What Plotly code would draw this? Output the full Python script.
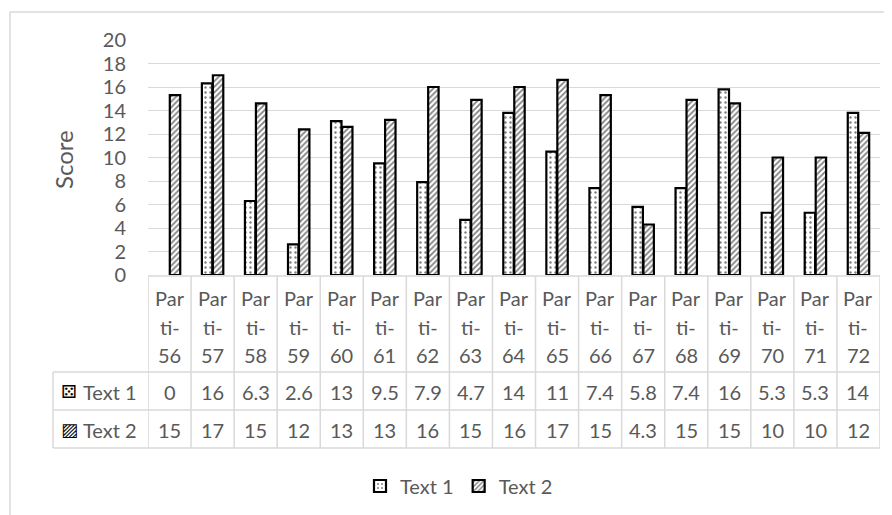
import plotly.graph_objects as go
from decimal import Decimal, ROUND_HALF_UP

# ---------------- data ----------------
categories = ["Parti-56", "Parti-57", "Parti-58", "Parti-59", "Parti-60", "Parti-61",
              "Parti-62", "Parti-63", "Parti-64", "Parti-65", "Parti-66", "Parti-67",
              "Parti-68", "Parti-69", "Parti-70", "Parti-71", "Parti-72"]
text1 = [0, 16.3, 6.3, 2.6, 13.1, 9.5, 7.9, 4.7, 13.8, 10.5, 7.4, 5.8, 7.4, 15.8, 5.3, 5.3, 13.8]
text2 = [15.3, 17.0, 14.6, 12.4, 12.6, 13.2, 16.0, 14.9, 16.0, 16.6, 15.3, 4.3, 14.9, 14.6, 10.0, 10.0, 12.1]
series_names = ["Text 1", "Text 2"]
series_icons = ["\u2684", "\u25A8"]
y_ticks = [0, 2, 4, 6, 8, 10, 12, 14, 16, 18, 20]
y_title = "Score"


def fmt(v):
    """Excel 'General' display in a narrow column: two significant digits."""
    d = Decimal(str(v))
    if d == 0:
        return "0"
    q = Decimal(1).scaleb(d.adjusted() - 1)
    r = d.quantize(q, rounding=ROUND_HALF_UP)
    return format(r.normalize(), "f")


def bar_heights(vals):
    # a zero-height bar is not drawn at all (avoids a stray outline on the axis)
    return [v if v != 0 else None for v in vals]


# ---------------- geometry helpers ----------------
# page body has an 8px margin, so the figure is 8px smaller than the window
W, H = 884, 507
L, R, T, B = 140, 12, 32, 240
PW, PH = W - L - R, H - T - B   # 732 x 235 ; plot area on screen: x 148..880, y 40..275


def py(s):  # screen y -> paper y
    return (275 - s) / PH


def px(s):  # screen x -> paper x
    return (s - 148) / PW


FONT = "Lato"
GRAY = "#595959"
LINE = "#d9d9d9"
FS = 20

fig = go.Figure()
fig.add_trace(go.Bar(
    x=categories, y=bar_heights(text1), name=series_names[0],
    marker=dict(color="white", line=dict(color="black", width=2.2),
                pattern=dict(shape=".", fgcolor="black", bgcolor="white", size=5, solidity=0.18)),
))
fig.add_trace(go.Bar(
    x=categories, y=bar_heights(text2), name=series_names[1],
    marker=dict(color="white", line=dict(color="black", width=2.2),
                pattern=dict(shape="/", fgcolor="black", bgcolor="white", size=4, solidity=0.45)),
))

annotations = []
# header row (category names, wrapped)
header_centers = [297.5, 326.5, 355]
for c in categories:
    parts = [c[:3], c[3:6], c[6:]]
    for part, yc in zip(parts, header_centers):
        annotations.append(dict(x=c, xref="x", y=py(yc), yref="paper", text=part,
                                showarrow=False, font=dict(family=FONT, size=FS, color=GRAY),
                                xanchor="center", yanchor="middle"))
# data rows
row_centers = [391.5, 429.5]
for vals, yc, name, icon in zip([text1, text2], row_centers, series_names, series_icons):
    for c, v in zip(categories, vals):
        annotations.append(dict(x=c, xref="x", y=py(yc), yref="paper", text=fmt(v),
                                showarrow=False, font=dict(family=FONT, size=FS, color=GRAY),
                                xanchor="center", yanchor="middle"))
    annotations.append(dict(x=px(69), xref="paper", y=py(yc), yref="paper", text=icon,
                            showarrow=False, font=dict(family="DejaVu Sans", size=18, color="black"),
                            xanchor="center", yanchor="middle"))
    annotations.append(dict(x=px(81), xref="paper", y=py(yc), yref="paper", text=name,
                            showarrow=False, font=dict(family=FONT, size=FS, color=GRAY),
                            xanchor="left", yanchor="middle"))
# y-axis title
annotations.append(dict(x=px(63), xref="paper", y=py(160), yref="paper", text=y_title,
                        textangle=-90, showarrow=False,
                        font=dict(family=FONT, size=24, color=GRAY),
                        xanchor="center", yanchor="middle"))

shapes = []
# chart outer border
shapes.append(dict(type="rect", xref="paper", yref="paper", x0=px(10), x1=px(1000),
                   y0=py(12), y1=py(800), line=dict(color=LINE, width=1.5), layer="below"))
# table horizontal lines
shapes.append(dict(type="line", xref="paper", yref="paper", x0=0, x1=1, y0=py(276), y1=py(276),
                   line=dict(color=LINE, width=1.5)))
for yy in [372, 410, 448]:
    shapes.append(dict(type="line", xref="paper", yref="paper", x0=px(53), x1=1, y0=py(yy), y1=py(yy),
                       line=dict(color=LINE, width=1.5)))
# table vertical lines
for i in range(len(categories) + 1):
    shapes.append(dict(type="line", xref="x", yref="paper", x0=i - 0.5, x1=i - 0.5,
                       y0=py(276), y1=py(448), line=dict(color=LINE, width=1.5)))
shapes.append(dict(type="line", xref="paper", yref="paper", x0=px(53), x1=px(53),
                   y0=py(372), y1=py(448), line=dict(color=LINE, width=1.5)))

fig.update_layout(
    width=W, height=H,
    margin=dict(l=L, r=R, t=T, b=B, autoexpand=False),
    paper_bgcolor="white", plot_bgcolor="white",
    barmode="group", bargap=0.49, bargroupgap=0.05,
    font=dict(family=FONT, size=FS, color=GRAY),
    xaxis=dict(type="category", showticklabels=False, showgrid=False, zeroline=False,
               range=[-0.5, len(categories) - 0.5], fixedrange=True),
    yaxis=dict(range=[0, 20], tickvals=y_ticks, showgrid=True, gridcolor=LINE, gridwidth=1.2,
               zeroline=False, ticks="", ticklabelstandoff=21,
               tickfont=dict(family=FONT, size=FS, color=GRAY)),
    legend=dict(orientation="h", x=px(459), xanchor="center", y=py(486), yanchor="middle",
                font=dict(family=FONT, size=FS, color=GRAY), bgcolor="rgba(0,0,0,0)",
                itemwidth=30, traceorder="normal"),
    annotations=annotations,
    shapes=shapes,
)

fig.write_html("out.html")
